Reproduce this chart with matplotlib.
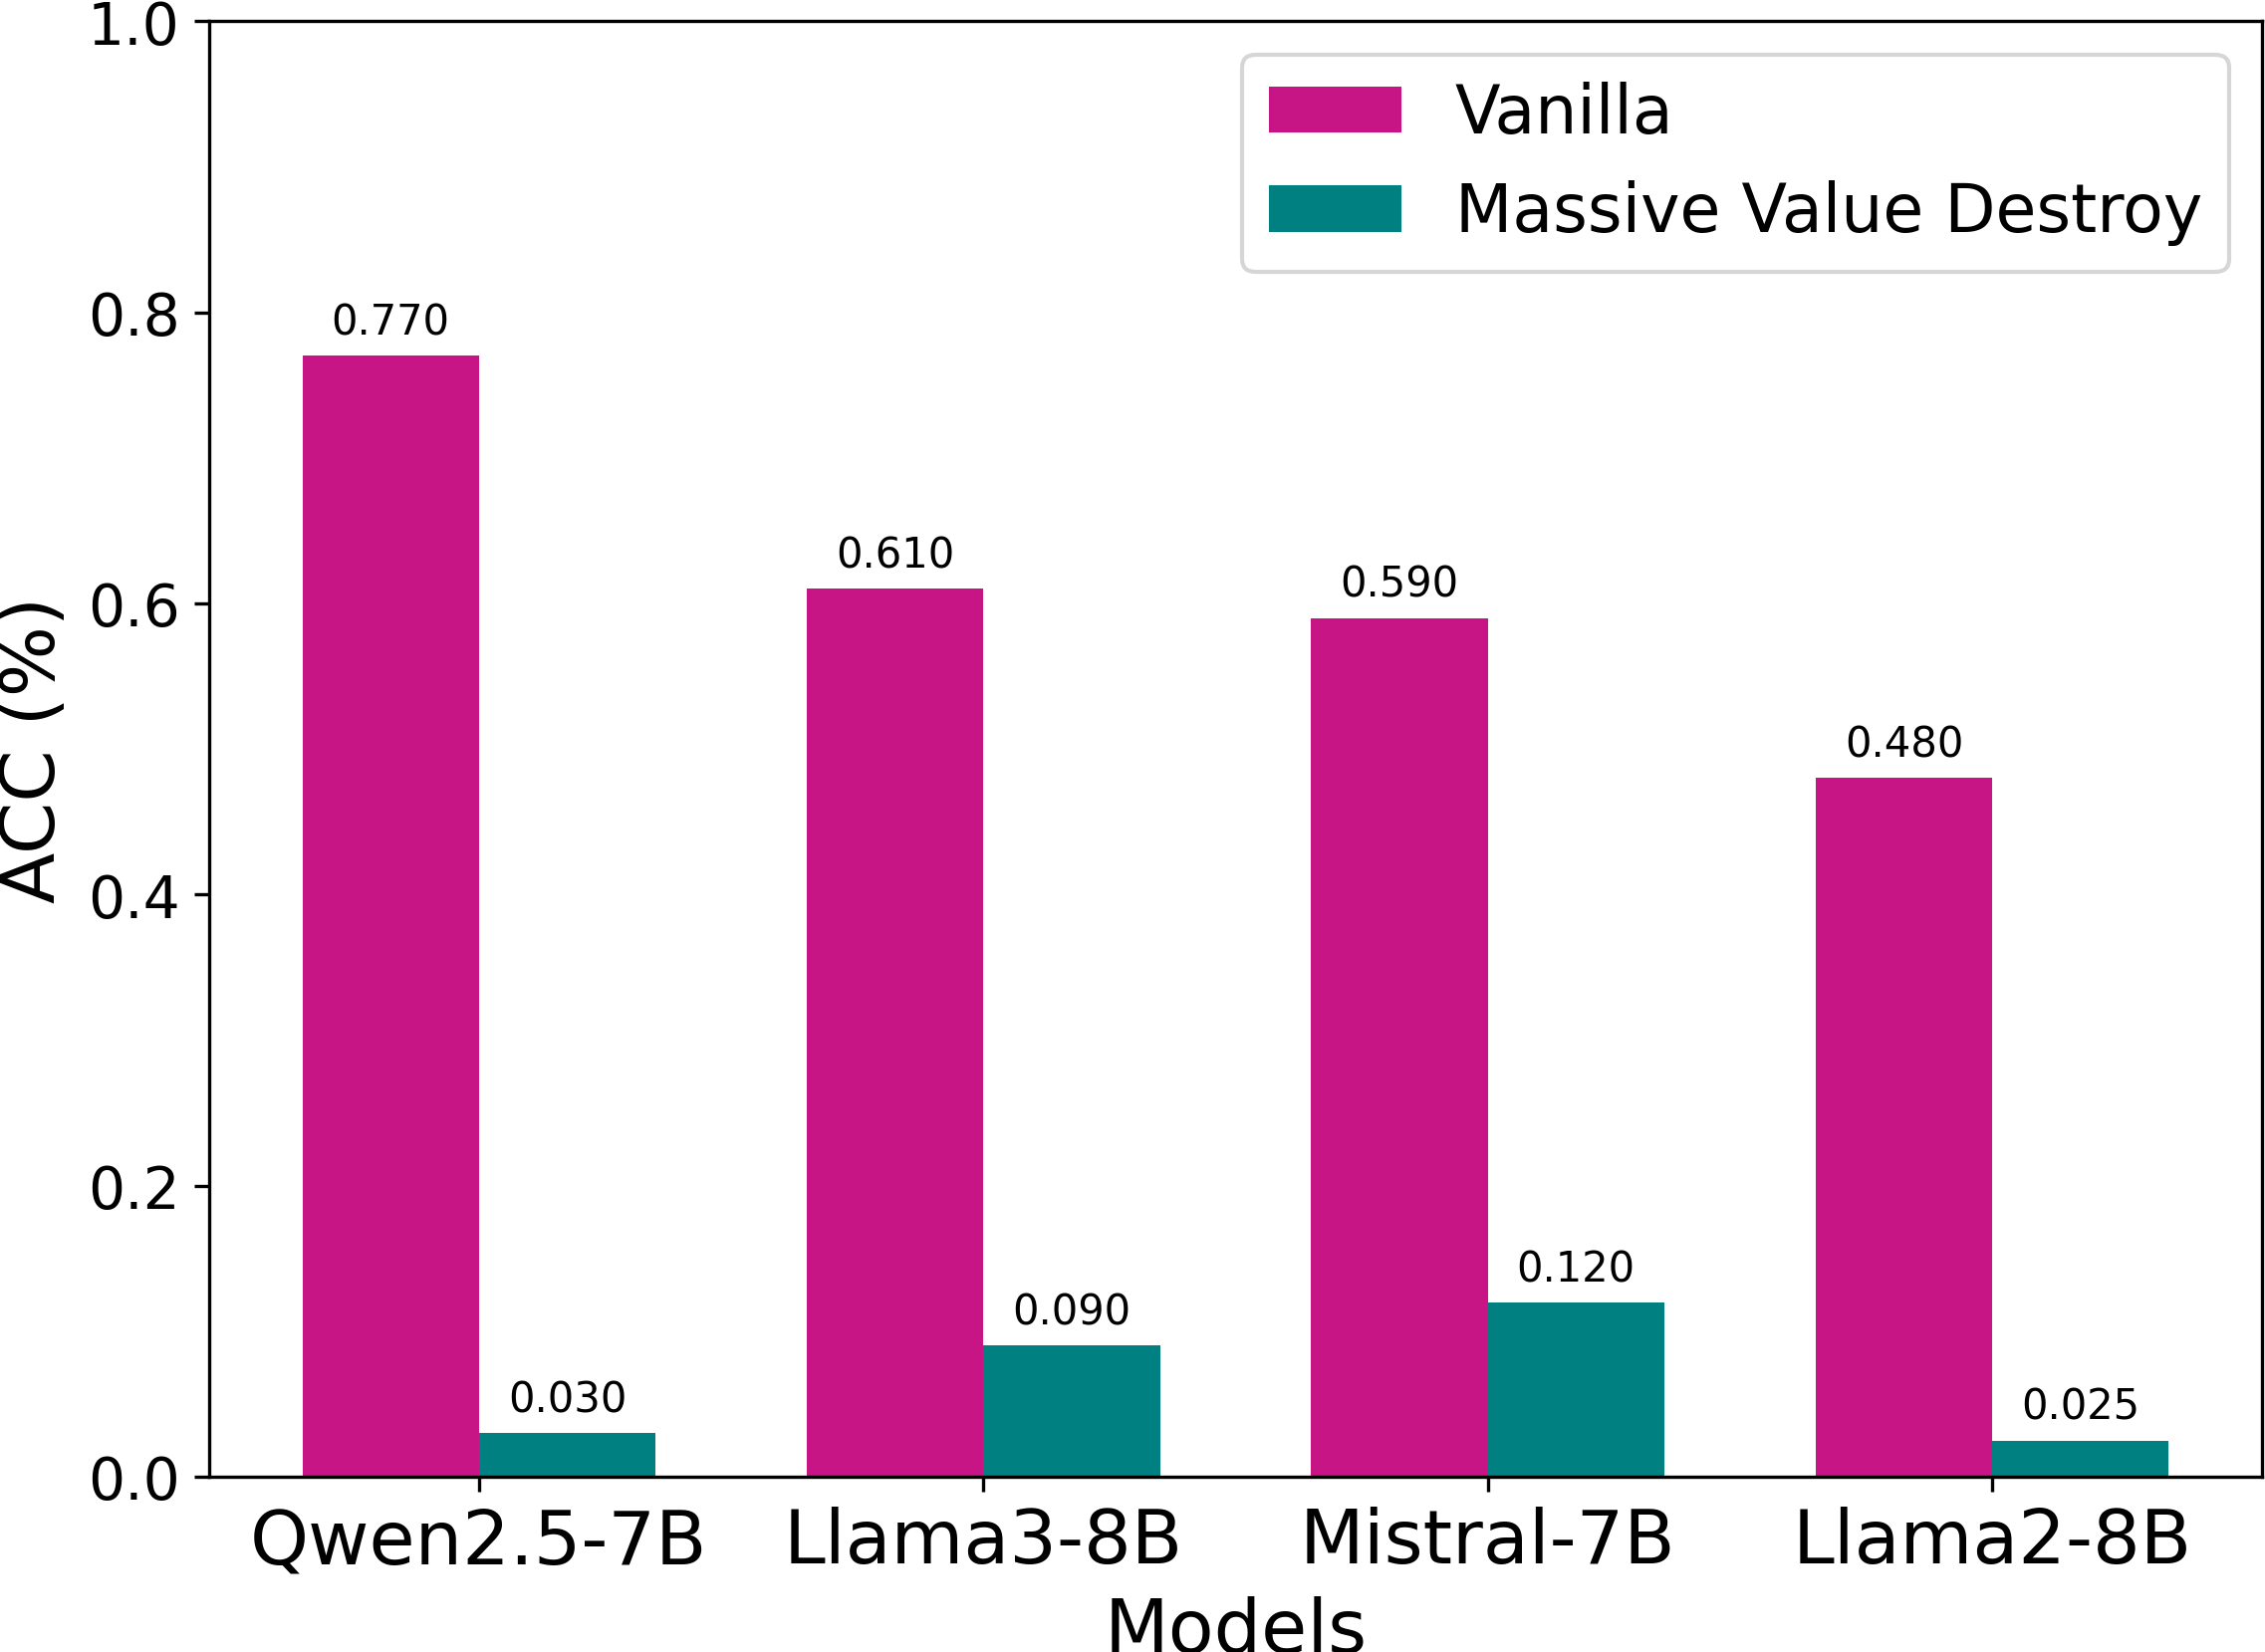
import numpy as np
import matplotlib
matplotlib.use("Agg")
import matplotlib.pyplot as plt

models = ['Qwen2.5-7B', 'Llama3-8B', 'Mistral-7B', 'Llama2-8B']
vanilla = [0.770, 0.610, 0.590, 0.480]
destroy = [0.030, 0.090, 0.120, 0.025]

fig, ax = plt.subplots(figsize=(7.58, 5.533), dpi=300)
fig.subplots_adjust(left=0.0923, right=0.9987, top=0.9867, bottom=0.106)

x = np.arange(len(models))
width = 0.35
b1 = ax.bar(x - width / 2, vanilla, width, color='mediumvioletred', label='Vanilla')
b2 = ax.bar(x + width / 2, destroy, width, color='teal', label='Massive Value Destroy')

for bars in (b1, b2):
    for rect in bars:
        h = rect.get_height()
        ax.annotate(f'{h:.3f}', xy=(rect.get_x() + rect.get_width() / 2, h),
                    xytext=(0, 3), textcoords='offset points',
                    ha='center', va='bottom', fontsize=10)

ax.set_ylim(0, 1.0)
ax.set_xticks(x)
ax.set_xticklabels(models, fontsize=18)
ax.tick_params(axis='y', labelsize=14)
ax.set_xlabel('Models', fontsize=18)
ax.set_ylabel('ACC (%)', fontsize=18)
ax.legend(fontsize=16, loc='upper right')

fig.savefig('out.png', dpi=300)
